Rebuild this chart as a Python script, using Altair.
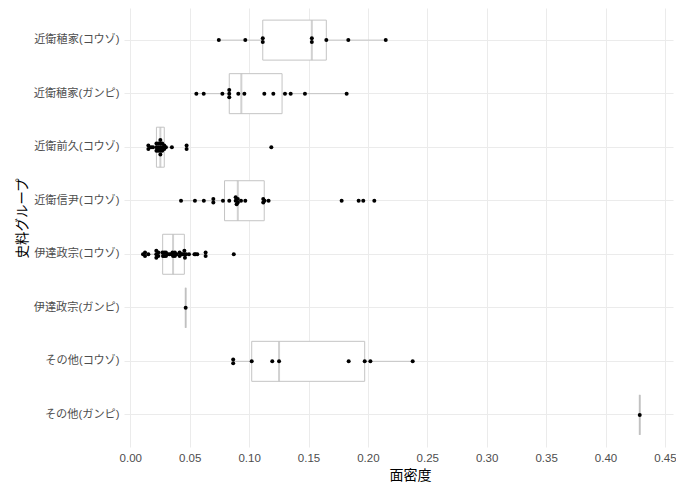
import altair as alt
import pandas as pd
import numpy as np

groups = [
    "近衛稙家(コウゾ)",
    "近衛稙家(ガンピ)",
    "近衛前久(コウゾ)",
    "近衛信尹(コウゾ)",
    "伊達政宗(コウゾ)",
    "伊達政宗(ガンピ)",
    "その他(コウゾ)",
    "その他(ガンピ)",
]

v_tanie_kozo = [0.0745, 0.0968, 0.1115, 0.1115, 0.1528, 0.1528, 0.1650, 0.1835, 0.2150]
v_tanie_ganpi = [0.0556, 0.0618, 0.0775, 0.0833, 0.0833, 0.0833, 0.0909, 0.0960,
                 0.1128, 0.1204, 0.1302, 0.1350, 0.1470, 0.1821]
v_sakihisa_kozo = [0.0152, 0.0152, 0.0175, 0.0191, 0.0220, 0.0220, 0.0220, 0.0236, 0.0236,
                   0.0236, 0.0253, 0.0253, 0.0253, 0.0253, 0.0253, 0.0269, 0.0269, 0.0269,
                   0.0286, 0.0286, 0.0300, 0.0350, 0.0474, 0.0474, 0.1187]
v_nobutada_kozo = [0.0427, 0.0544, 0.0619, 0.0699, 0.0699, 0.0780, 0.0833, 0.0887,
                   0.0887, 0.0895, 0.0905, 0.0905, 0.0932, 0.0968, 0.1119, 0.1119,
                   0.1130, 0.1164, 0.1779, 0.1922, 0.1961, 0.2054]
v_date_kozo = [0.0107, 0.0124, 0.0124, 0.0152, 0.0219, 0.0219, 0.0219, 0.0236, 0.0236,
               0.0270, 0.0275, 0.0285, 0.0285, 0.0300, 0.0300, 0.0315, 0.0330, 0.0345,
               0.0355, 0.0360, 0.0365, 0.0375, 0.0375, 0.0390, 0.0415, 0.0415, 0.0430,
               0.0440, 0.0455, 0.0455, 0.0460, 0.0470, 0.0494, 0.0540, 0.0550, 0.0564,
               0.0634, 0.0634, 0.0871]
v_date_ganpi = [0.0466]
v_other_kozo = [0.0866, 0.0866, 0.1022, 0.1195, 0.1252, 0.1838, 0.1973, 0.2021, 0.2377]
v_other_ganpi = [0.4288]

series = [v_tanie_kozo, v_tanie_ganpi, v_sakihisa_kozo, v_nobutada_kozo,
          v_date_kozo, v_date_ganpi, v_other_kozo, v_other_ganpi]

x_ticks = [round(i * 0.025, 3) for i in range(19)]

FONT = "Noto Sans CJK JP"
LFONT = "Liberation Sans, Noto Sans CJK JP"
W, H = 549, 439
x_dom = [-0.0053, 0.4568]
BAND = H / (len(groups) + 0.2)

# beeswarm-like centred stacking of tied values
PX_PER_UNIT = W / (x_dom[1] - x_dom[0])
STEP = 3.6
rows = []
stats = []
for g, vals in zip(groups, series):
    a = np.array(sorted(vals))
    q1, med, q3 = np.percentile(a, [25, 50, 75])
    iqr = q3 - q1
    lo = a[a >= q1 - 1.5 * iqr].min()
    hi = a[a <= q3 + 1.5 * iqr].max()
    stats.append({"group": g, "q1": q1, "med": med, "q3": q3, "lo": lo, "hi": hi})
    clusters = []
    for v in a:
        if clusters and (v - clusters[-1][0]) * PX_PER_UNIT < 1.0:
            clusters[-1].append(v)
        else:
            clusters.append([v])
    for cl in clusters:
        m = len(cl)
        for i, v in enumerate(cl):
            rows.append({"group": g, "value": float(v),
                         "off": BAND / 2 + (i - (m - 1) / 2) * STEP})
df = pd.DataFrame(rows)
sdf = pd.DataFrame(stats)

xscale = alt.Scale(domain=x_dom, nice=False, zero=False)
yscale = alt.Scale(type="band", domain=groups, paddingInner=0, paddingOuter=0.1)

xaxis = alt.Axis(
    values=x_ticks,
    labelExpr="round(datum.value*1000) % 50 == 0 ? format(datum.value, '.2f') : ''",
    grid=True, gridColor="#ebebeb", gridWidth=1,
    domain=False, ticks=False,
    labelColor="#4d4d4d", labelFontSize=11.5, labelFont=LFONT, labelPadding=5,
    titleFont=FONT, titleFontSize=14, titleColor="#000000", titleFontWeight="normal",
    titleBaseline="middle", titleY=28, titleX=286,
)
yaxis = alt.Axis(
    grid=True, gridColor="#ebebeb", gridWidth=1, bandPosition=0.5,
    domain=False, ticks=False,
    labelColor="#4d4d4d", labelFontSize=11.2, labelFont=LFONT, labelPadding=5,
    titleFont=FONT, titleFontSize=13.5, titleColor="#000000", titleFontWeight="normal",
    titleAngle=270, titleAlign="center", titleBaseline="middle",
    titleX=-102, titleY=210,
)

GREY = "#c4c4c4"

whisk = alt.Chart(sdf).mark_rule(color=GREY, strokeWidth=1).encode(
    x=alt.X("lo:Q", title="面密度", scale=xscale, axis=xaxis),
    x2="hi:Q",
    y=alt.Y("group:N", sort=groups, title="史料グループ", scale=yscale, axis=yaxis),
)
boxes = alt.Chart(sdf).mark_bar(size=40, fill="white", stroke=GREY, strokeWidth=1).encode(
    x="q1:Q", x2="q3:Q", y=alt.Y("group:N", sort=groups),
)
meds = alt.Chart(sdf).mark_tick(size=40, thickness=2, color="#bdbdbd", orient="vertical").encode(
    x="med:Q", y=alt.Y("group:N", sort=groups),
)
pts = alt.Chart(df).mark_circle(size=16, color="black", opacity=1).encode(
    x=alt.X("value:Q"),
    y=alt.Y("group:N", sort=groups),
    yOffset=alt.YOffset("off:Q", scale=None),
)

chart = alt.layer(whisk, boxes, meds, pts).properties(
    width=W, height=H,
    autosize=alt.AutoSizeParams(type="none"),
    padding={"left": 116, "top": 0, "right": 3, "bottom": 36},
).configure(background="white").configure_view(stroke=None)

chart.save("out.html", embed_options={"renderer": "svg", "actions": False})
